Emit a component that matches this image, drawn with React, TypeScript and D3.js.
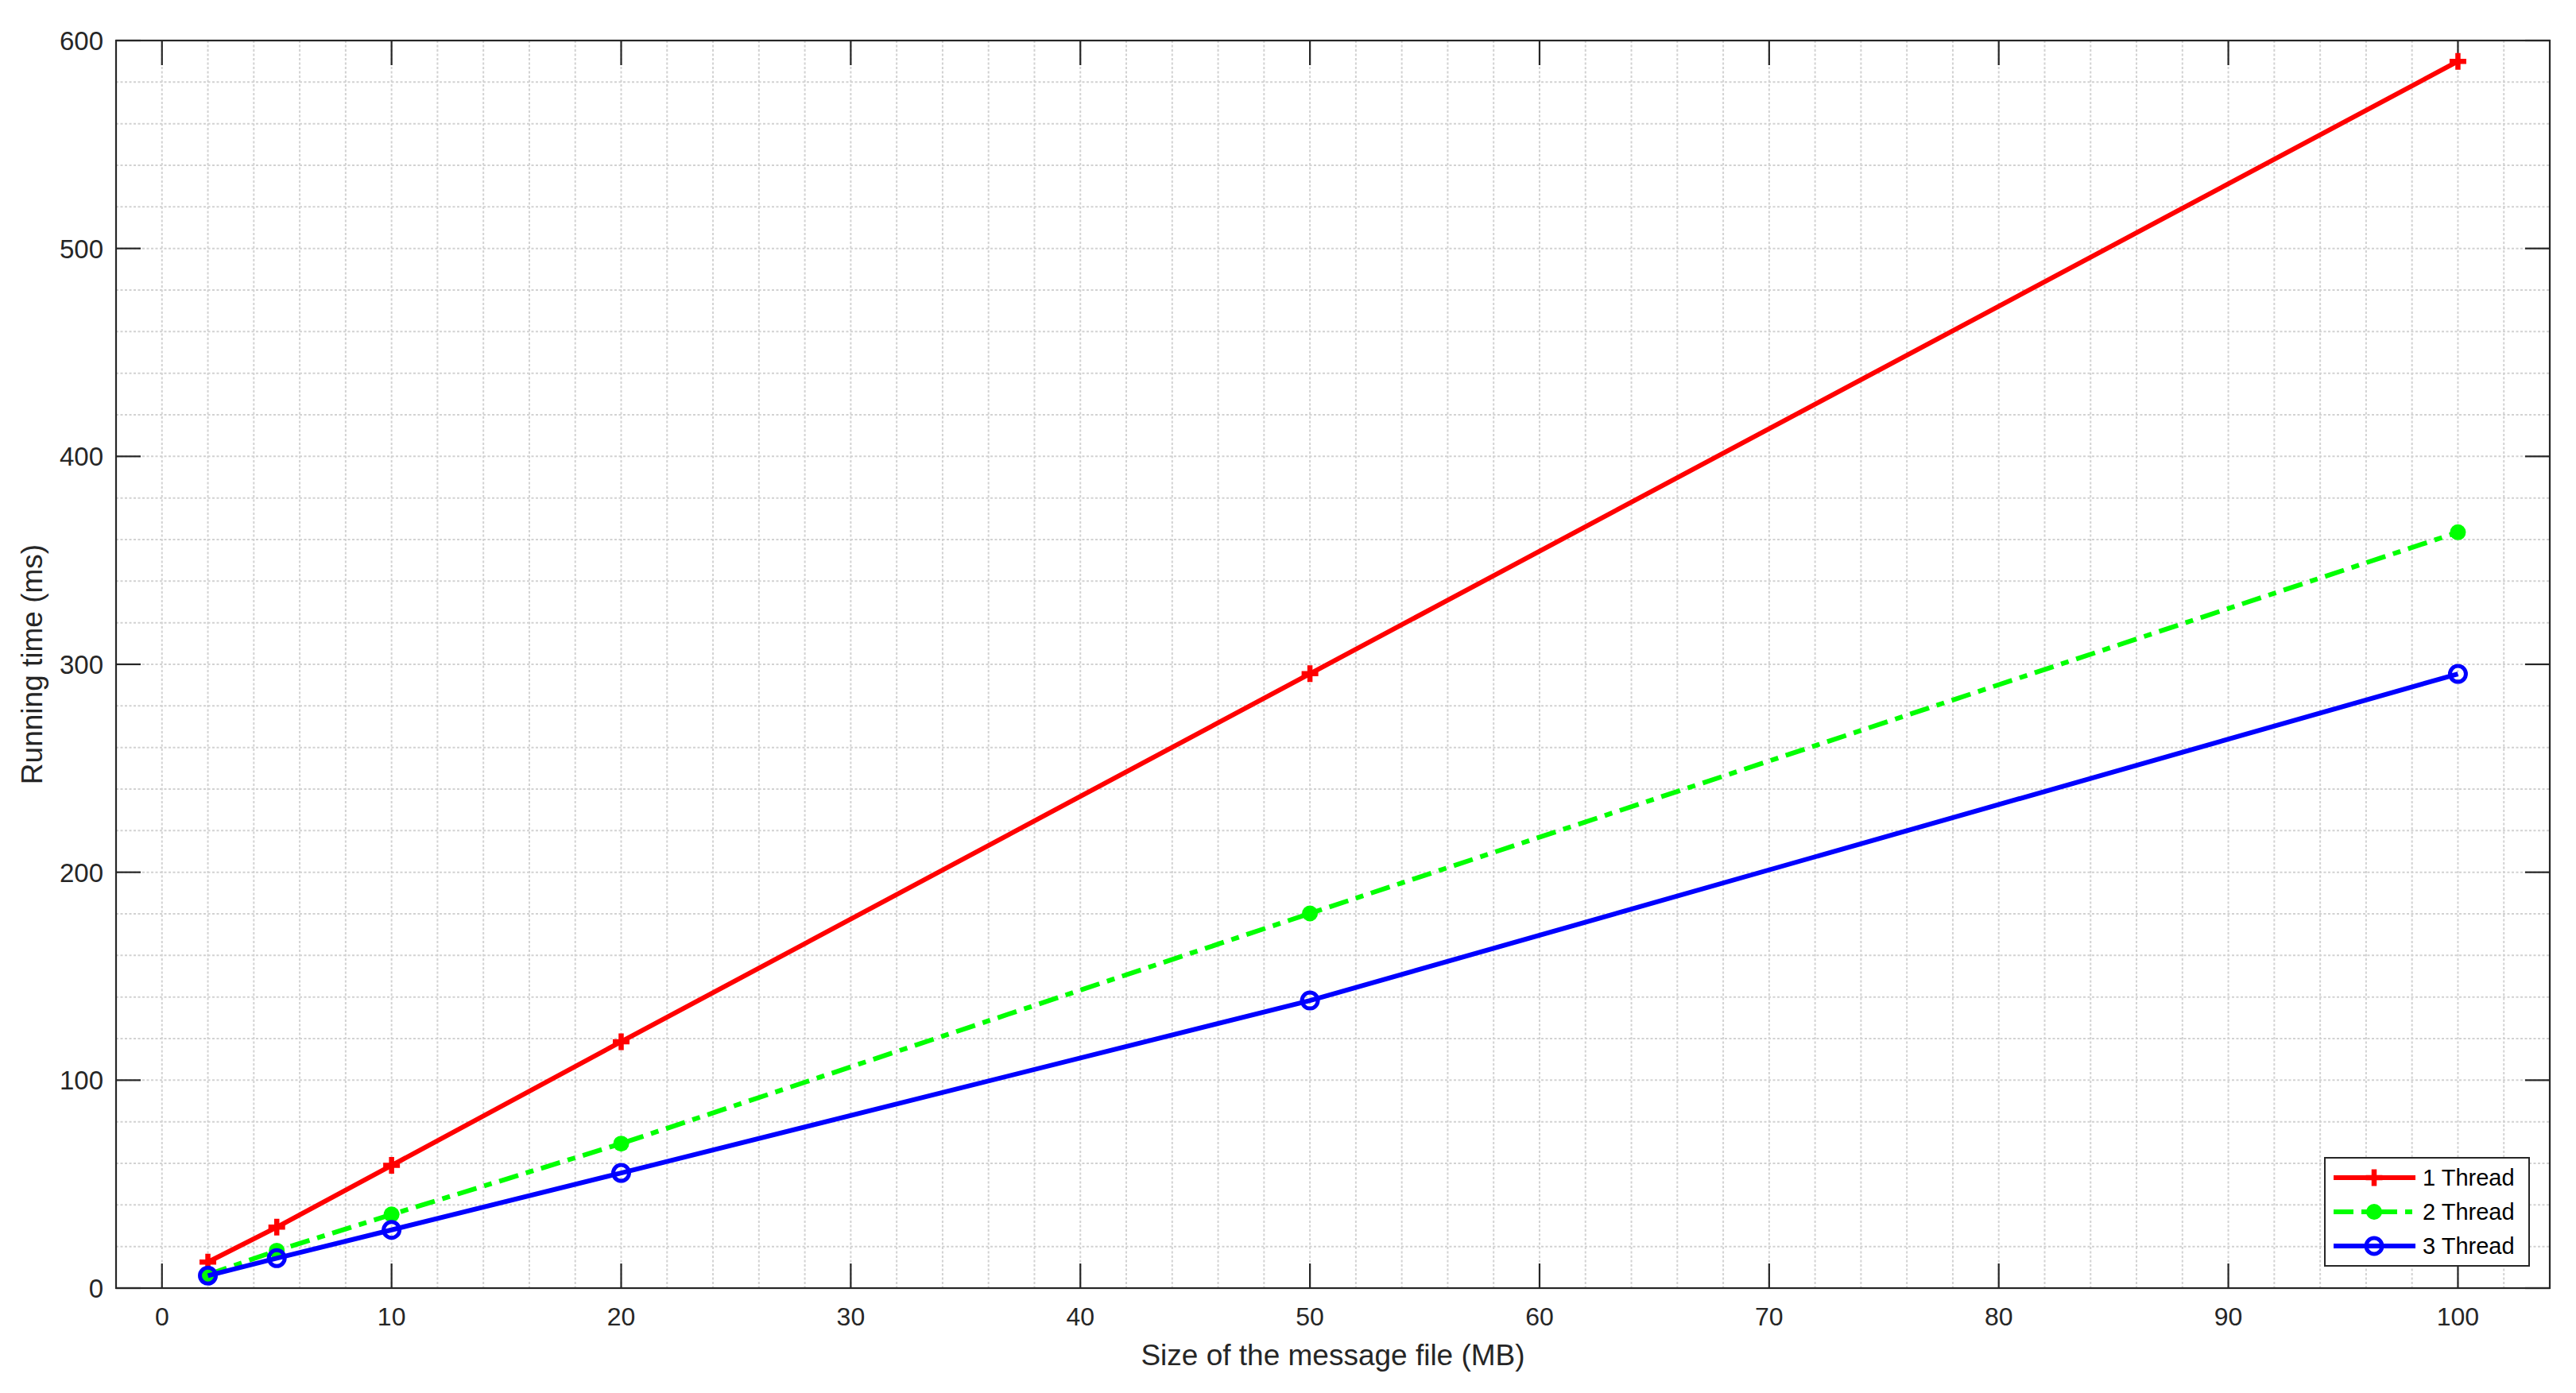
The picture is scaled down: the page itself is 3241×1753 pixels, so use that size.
import { useRef, useEffect } from 'react';
import * as d3 from 'd3';

// message size (MB) vs running time (ms)
const sizes = [2, 5, 10, 20, 50, 100];
const thread1 = [12.5, 29.3, 59, 118.5, 295.5, 590];
const thread2 = [6.5, 18, 35.4, 69.5, 180.2, 363.5];
const thread3 = [6, 14.4, 28, 55.4, 138.3, 295.4];
const seriesNames = ['1 Thread', '2 Thread', '3 Thread'];
const xTicks = [0, 10, 20, 30, 40, 50, 60, 70, 80, 90, 100];
const yTicks = [0, 100, 200, 300, 400, 500, 600];

const W = 3241;
const H = 1753;
const left = 146;
const right = 3208;
const top = 51;
const bottom = 1621;
const font = '"Liberation Sans", Arial, sans-serif';
const axisColor = '#262626';

export default function App() {
  const ref = useRef<SVGSVGElement>(null);

  useEffect(() => {
    const svg = d3.select(ref.current);
    svg.selectAll('*').remove();

    const x = d3.scaleLinear([-2, 104], [left, right]);
    const y = d3.scaleLinear([0, 600], [bottom, top]);

    // grid
    const grid = svg.append('g').attr('stroke', '#d2d2d2').attr('stroke-width', 2)
      .attr('stroke-dasharray', '3,2.5');
    grid.selectAll('line.gx').data(d3.range(0, 104, 2)).join('line')
      .attr('x1', (d) => x(d)).attr('x2', (d) => x(d))
      .attr('y1', top).attr('y2', bottom);
    grid.selectAll('line.gy').data(d3.range(20, 600, 20)).join('line')
      .attr('class', 'gy')
      .attr('x1', left).attr('x2', right)
      .attr('y1', (d) => y(d)).attr('y2', (d) => y(d));

    // axes box + inward ticks
    const ax = svg.append('g').attr('stroke', axisColor).attr('stroke-width', 2.2);
    ax.append('rect').attr('x', left).attr('y', top)
      .attr('width', right - left).attr('height', bottom - top).attr('fill', 'none');
    const tl = 31;
    xTicks.forEach((t) => {
      ax.append('line').attr('x1', x(t)).attr('x2', x(t)).attr('y1', bottom).attr('y2', bottom - tl);
      ax.append('line').attr('x1', x(t)).attr('x2', x(t)).attr('y1', top).attr('y2', top + tl);
    });
    yTicks.forEach((t) => {
      ax.append('line').attr('x1', left).attr('x2', left + tl).attr('y1', y(t)).attr('y2', y(t));
      ax.append('line').attr('x1', right).attr('x2', right - tl).attr('y1', y(t)).attr('y2', y(t));
    });

    const txt = svg.append('g').attr('fill', axisColor).attr('font-family', font);
    txt.selectAll('text.xt').data(xTicks).join('text')
      .attr('x', (d) => x(d)).attr('y', 1668)
      .attr('text-anchor', 'middle').attr('font-size', 32).text((d) => d);
    txt.selectAll('text.yt').data(yTicks).join('text')
      .attr('class', 'yt')
      .attr('x', 130).attr('y', (d) => y(d)).attr('dy', '0.36em')
      .attr('text-anchor', 'end').attr('font-size', 33).text((d) => d);
    txt.append('text').attr('x', (left + right) / 2).attr('y', 1718)
      .attr('text-anchor', 'middle').attr('font-size', 37)
      .text('Size of the message file (MB)');
    txt.append('text').attr('transform', `translate(53, ${(top + bottom) / 2}) rotate(-90)`)
      .attr('text-anchor', 'middle').attr('font-size', 37)
      .text('Running time (ms)');

    const line = d3.line<number>().x((_, i) => x(sizes[i])).y((d) => y(d));

    // 1 Thread
    const g1 = svg.append('g');
    g1.append('path').attr('d', line(thread1)).attr('fill', 'none')
      .attr('stroke', '#ff0000').attr('stroke-width', 6);
    g1.selectAll('path.m').data(thread1).join('path')
      .attr('class', 'm')
      .attr('d', (d, i) => {
        const cx = x(sizes[i]), cy = y(d), r = 10.5;
        return `M${cx - r},${cy}H${cx + r}M${cx},${cy - r}V${cy + r}`;
      })
      .attr('stroke', '#ff0000').attr('stroke-width', 6.5);

    // 2 Thread
    const g2 = svg.append('g');
    g2.append('path').attr('d', line(thread2)).attr('fill', 'none')
      .attr('stroke', '#00ff00').attr('stroke-width', 6)
      .attr('stroke-dasharray', '25,10,10,10');
    g2.selectAll('circle').data(thread2).join('circle')
      .attr('cx', (_, i) => x(sizes[i])).attr('cy', (d) => y(d)).attr('r', 10)
      .attr('fill', '#00ff00');

    // 3 Thread
    const g3 = svg.append('g');
    g3.append('path').attr('d', line(thread3)).attr('fill', 'none')
      .attr('stroke', '#0000ff').attr('stroke-width', 6);
    g3.selectAll('circle').data(thread3).join('circle')
      .attr('cx', (_, i) => x(sizes[i])).attr('cy', (d) => y(d)).attr('r', 10)
      .attr('fill', 'none').attr('stroke', '#0000ff').attr('stroke-width', 5);

    // legend
    const lg = svg.append('g');
    lg.append('rect').attr('x', 2925).attr('y', 1457).attr('width', 257).attr('height', 136)
      .attr('fill', '#fff').attr('stroke', axisColor).attr('stroke-width', 2);
    const rows = [1482, 1525, 1568];
    const colors = ['#ff0000', '#00ff00', '#0000ff'];
    seriesNames.forEach((name, i) => {
      const ry = rows[i];
      const l = lg.append('line').attr('x1', 2936).attr('x2', 3039).attr('y1', ry).attr('y2', ry)
        .attr('stroke', colors[i]).attr('stroke-width', 6);
      if (i === 1) l.attr('x2', 3035).attr('stroke-dasharray', '25,10,10,10');
      const mx = 2987;
      if (i === 0) {
        lg.append('path').attr('d', `M${mx - 10.5},${ry}H${mx + 10.5}M${mx},${ry - 10.5}V${ry + 10.5}`)
          .attr('stroke', colors[i]).attr('stroke-width', 6.5);
      } else if (i === 1) {
        lg.append('circle').attr('cx', mx).attr('cy', ry).attr('r', 10).attr('fill', colors[i]);
      } else {
        lg.append('circle').attr('cx', mx).attr('cy', ry).attr('r', 10)
          .attr('fill', 'none').attr('stroke', colors[i]).attr('stroke-width', 5);
      }
      lg.append('text').attr('x', 3048).attr('y', ry).attr('dy', '0.36em')
        .attr('font-family', font).attr('font-size', 29).attr('fill', '#000').text(name);
    });
  }, []);

  return (
    <svg
      ref={ref}
      width={W}
      height={H}
      style={{ position: 'absolute', left: 0, top: 0, background: '#fff' }}
    />
  );
}
